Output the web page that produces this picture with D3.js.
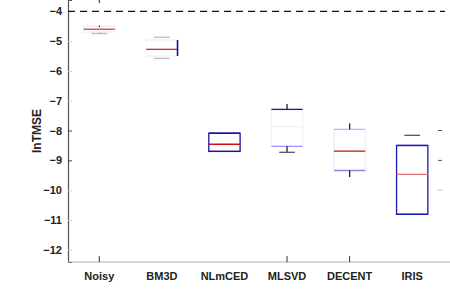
<!DOCTYPE html>
<html lang="en">
<head>
<meta charset="UTF-8">
<title>lnTMSE boxes</title>
<style>
  body { margin: 0; background: #fff; }
  text { font-family: "Liberation Sans", Arial, sans-serif; font-weight: bold; fill: #222; }
</style>
</head>
<body>
<svg id="chart" width="450" height="296"></svg>
<script src="https://d3js.org/d3.v7.min.js"></script>
<script>
// data
var methods = ["Noisy", "BM3D", "NLmCED", "MLSVD", "DECENT", "IRIS"];
var q3      = [-4.50, -4.96, -8.09, -7.29, -7.96, -8.50];
var medians = [-4.60, -5.275, -8.46, -7.87, -8.69, -9.47];
var q1      = [-4.70, -5.50, -8.70, -8.53, -9.34, -10.81];
var whiskHi = [-3.62, -4.87, null, -7.11, -7.76, -8.16];
var whiskLo = [-4.745, -5.58, null, -8.73, -9.56, null];
var refLine = -4;
var yTicks = [-4, -5, -6, -7, -8, -9, -10, -11, -12];

// look of each box (this chart is very uneven)
var boxStroke = ["#f2f2f8", "#f0f0f6", "#1515a5", "#f2f2fc", "#eeeefa", "#1a1ab0"];
var topStroke = ["#f2f2f8", "#f0f0f6", "#1515a5", "#1a1aaa", "#bbbbff", "#1a1ab0"];
var botStroke = ["#f2f2f8", "#f0f0f6", "#1515a5", "#9999ff", "#8888dd", "#1a1ab0"];
var medStroke = ["#d84040", "#c83030", "#cc1111", "#f2f2ea", "#b81515", "#e07575"];

var svg = d3.select("#chart");
var left = 68, right = 450, bottom = 262;

var x = d3.scaleBand().domain(methods).range([68, 443.5]).paddingInner(0.5).paddingOuter(0.25);
var y = d3.scaleLinear().domain([-3.62, -12.41]).range([0, bottom]);

// y axis
var yAxis = svg.append("g").attr("transform", "translate(" + left + ",0)")
  .call(d3.axisLeft(y).tickValues(yTicks).tickSize(-4).tickPadding(6).tickFormat(d3.format("d")));
yAxis.select(".domain").attr("stroke", "#555").attr("stroke-width", 1.2);
yAxis.selectAll(".tick line").attr("stroke", function(d) { return (d == -8 || d == -9) ? "#444" : "#ccc"; });
yAxis.selectAll(".tick text").style("font-size", "11px").attr("fill", "#222");

// x axis
var xAxis = svg.append("g").attr("transform", "translate(0," + bottom + ")")
  .call(d3.axisBottom(x).tickSize(-6).tickPadding(10));
xAxis.select(".domain").attr("d", "M" + left + ",0H" + right).attr("stroke", "#aaa");
xAxis.selectAll(".tick line").attr("stroke", function(d, i) { return (i == 0 || i == 3 || i == 4) ? "#333" : "none"; });
xAxis.selectAll(".tick text").style("font-size", "11px").attr("fill", "#222");

// right side stray ticks
svg.selectAll(".rtick").data([-8, -9, -10]).enter().append("line")
  .attr("x1", 438).attr("x2", 442)
  .attr("y1", function(d) { return y(d); }).attr("y2", function(d) { return y(d); })
  .attr("stroke", function(d) { return d == -10 ? "#bbb" : "#555"; });

// reference line
svg.append("line")
  .attr("x1", left).attr("x2", 445)
  .attr("y1", y(refLine)).attr("y2", y(refLine))
  .attr("stroke", "#111").attr("stroke-width", 1.2).attr("stroke-dasharray", "7,5");

// y label
svg.append("text")
  .attr("transform", "translate(41,131) rotate(-90)")
  .attr("text-anchor", "middle")
  .style("font-size", "12px")
  .text("lnTMSE");

// boxes
var bw = x.bandwidth();
methods.forEach(function(m, i) {
  var x0 = x(m), cx = x0 + bw / 2;
  var g = svg.append("g");
  g.append("rect")
    .attr("x", x0).attr("y", y(q3[i]))
    .attr("width", bw).attr("height", y(q1[i]) - y(q3[i]))
    .attr("fill", "none").attr("stroke", boxStroke[i]).attr("stroke-width", 1.3)
    .attr("stroke-dasharray", i == 1 ? "2,2" : null);
  g.append("line").attr("x1", x0).attr("x2", x0 + bw)
    .attr("y1", y(q3[i])).attr("y2", y(q3[i])).attr("stroke", topStroke[i]).attr("stroke-width", 1.3);
  g.append("line").attr("x1", x0).attr("x2", x0 + bw)
    .attr("y1", y(q1[i])).attr("y2", y(q1[i])).attr("stroke", botStroke[i]).attr("stroke-width", 1.3);
  g.append("line").attr("x1", x0).attr("x2", x0 + bw)
    .attr("y1", y(medians[i])).attr("y2", y(medians[i])).attr("stroke", medStroke[i]).attr("stroke-width", 1.3);

  // whiskers
  if (i == 0) {
    // only stubs and dots are visible for Noisy
    g.append("line").attr("x1", cx).attr("x2", cx).attr("y1", y(whiskHi[i])).attr("y2", y(whiskHi[i]) + 3)
      .attr("stroke", "#222");
    [26.3, 33.3].forEach(function(py) {
      g.append("rect").attr("x", cx - 0.5).attr("y", py - 0.5).attr("width", 1.2).attr("height", 1.2).attr("fill", "#111");
    });
    g.append("line").attr("x1", cx - bw / 4).attr("x2", cx + bw / 4)
      .attr("y1", y(whiskLo[i])).attr("y2", y(whiskLo[i])).attr("stroke", "#bbb").attr("stroke-width", 1.3);
  } else if (i == 1) {
    g.append("line").attr("x1", x0 + bw).attr("x2", x0 + bw)
      .attr("y1", y(q3[i])).attr("y2", y(q1[i])).attr("stroke", "#1010a0").attr("stroke-width", 1.6);
    [whiskHi[i], whiskLo[i]].forEach(function(v) {
      g.append("line").attr("x1", cx - bw / 4).attr("x2", cx + bw / 4)
        .attr("y1", y(v)).attr("y2", y(v)).attr("stroke", "#bbb").attr("stroke-width", 1.3);
    });
  } else if (i == 5) {
    g.append("line").attr("x1", cx - bw / 4).attr("x2", cx + bw / 4)
      .attr("y1", y(whiskHi[i])).attr("y2", y(whiskHi[i])).attr("stroke", "#555").attr("stroke-width", 1.3);
  } else if (whiskHi[i] != null) {
    g.append("line").attr("x1", cx).attr("x2", cx).attr("y1", y(whiskHi[i])).attr("y2", y(q3[i]))
      .attr("stroke", "#222").attr("stroke-width", 1.3);
    g.append("line").attr("x1", cx).attr("x2", cx).attr("y1", y(q1[i])).attr("y2", y(whiskLo[i]))
      .attr("stroke", "#222").attr("stroke-width", 1.3);
    if (i == 3) {
      g.append("line").attr("x1", cx - bw / 4).attr("x2", cx + bw / 4)
        .attr("y1", y(whiskLo[i])).attr("y2", y(whiskLo[i])).attr("stroke", "#555").attr("stroke-width", 1.3);
    }
  }
});
</script>
</body>
</html>
